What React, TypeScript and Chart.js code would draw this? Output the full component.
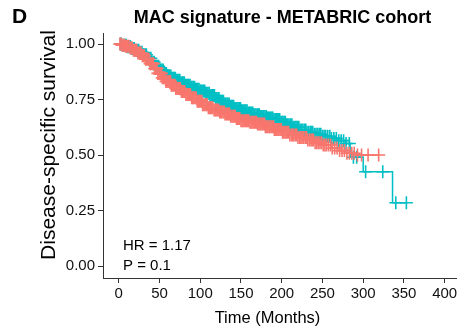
import React, { useEffect, useRef } from "react";
import { Chart, registerables } from "chart.js";

Chart.register(...registerables);

// ---- data ----
const xTicks = [0, 50, 100, 150, 200, 250, 300, 350, 400];
const yTicks = [0, 0.25, 0.5, 0.75, 1];
const yTickLabels = ["0.00", "0.25", "0.50", "0.75", "1.00"];

// High MAC (teal) step curve knots
const tealTimes = [0, 5, 10, 15, 20, 25, 30, 35, 40, 45, 50, 55, 60, 65, 70, 76, 82, 88, 94, 100, 106, 112, 118, 124, 130, 136, 142, 150, 158, 166, 174, 182, 190, 198, 206, 214, 222, 230, 240, 250, 260, 270, 278, 284, 300, 336];
const tealSurv = [1.0, 0.995, 0.988, 0.98, 0.972, 0.963, 0.952, 0.936, 0.918, 0.9, 0.883, 0.868, 0.856, 0.846, 0.837, 0.826, 0.815, 0.805, 0.797, 0.789, 0.779, 0.768, 0.755, 0.742, 0.73, 0.72, 0.71, 0.7, 0.69, 0.682, 0.674, 0.667, 0.66, 0.648, 0.637, 0.625, 0.613, 0.603, 0.594, 0.585, 0.575, 0.565, 0.552, 0.49, 0.425, 0.285];
const tealCensor = [2, 3, 5, 6.5, 8, 9, 10.5, 12, 13.5, 14.5, 16, 17.5, 19, 20, 21.5, 23, 24.5, 25.5, 27, 28.5, 30, 31, 32.5, 34, 35, 36.5, 38, 39.5, 40.5, 42, 43.5, 45, 46, 47.5, 49, 50.5, 51.5, 53, 54.5, 56, 57, 58.5, 60, 61.5, 62.5, 64, 65.5, 67, 68, 69.5, 71, 72.5, 73.5, 75, 76.5, 78, 79, 80.5, 82, 83.5, 84.5, 86, 87.5, 89, 90, 91.5, 93, 94.5, 95.5, 97, 98.5, 100, 101, 102.5, 104, 105.5, 106.5, 108, 109.5, 111, 112, 113.5, 115, 116.5, 117.5, 119, 120.5, 122, 123, 124.5, 126, 127.5, 128.5, 130, 131.5, 133, 134, 135.5, 137, 138.5, 139.5, 141, 142.5, 144, 145, 146.5, 148, 149.5, 150.5, 152, 153.5, 155, 156, 157.5, 159, 160.5, 161.5, 163, 164.5, 166, 167, 168.5, 170, 171.5, 172.5, 174, 175.5, 177, 178, 179.5, 181, 182.5, 183.5, 185, 186.5, 188, 189, 190.5, 192, 193.5, 194.5, 196, 197.5, 199, 200, 201.5, 203, 204.5, 206, 207.5, 209, 211, 212.5, 214, 216, 217.5, 219, 221, 222.5, 224, 226, 228, 229.5, 231, 233, 235, 236.5, 238, 240, 242, 244, 246, 248, 250, 252, 254, 256.5, 259, 261, 264, 267, 270, 273, 276, 279, 283, 288, 292, 303, 324, 340, 353];

// Low MAC (salmon) step curve knots
const salmonTimes = [0, 4, 8, 13, 18, 23, 28, 33, 38, 43, 48, 53, 58, 64, 70, 76, 82, 89, 96, 103, 110, 117, 124, 130, 137, 144, 150, 160, 170, 180, 191, 200, 210, 220, 231, 241, 251, 261, 271, 280, 290];
const salmonSurv = [1.0, 0.995, 0.99, 0.982, 0.972, 0.96, 0.948, 0.932, 0.912, 0.89, 0.868, 0.848, 0.832, 0.815, 0.8, 0.786, 0.773, 0.758, 0.742, 0.727, 0.713, 0.703, 0.694, 0.685, 0.675, 0.665, 0.655, 0.648, 0.64, 0.628, 0.615, 0.603, 0.59, 0.579, 0.568, 0.556, 0.545, 0.532, 0.52, 0.508, 0.5];
const salmonCensor = [1.5, 3, 4, 5.5, 7, 8.5, 9.5, 11, 12.5, 14, 15, 16.5, 18, 19.5, 20.5, 22, 23.5, 25, 26, 27.5, 29, 30.5, 31.5, 33, 34.5, 36, 37, 38.5, 40, 41.5, 42.5, 44, 45.5, 47, 48, 49.5, 51, 52.5, 53.5, 55, 56.5, 58, 59, 60.5, 62, 63.5, 64.5, 66, 67.5, 69, 70, 71.5, 73, 74.5, 75.5, 77, 78.5, 80, 81, 82.5, 84, 85.5, 86.5, 88, 89.5, 91, 92, 93.5, 95, 96.5, 97.5, 99, 100.5, 102, 103, 104.5, 106, 107.5, 108.5, 110, 111.5, 113, 114, 115.5, 117, 118.5, 119.5, 121, 122.5, 124, 125, 126.5, 128, 129.5, 130.5, 132, 133.5, 135, 136, 137.5, 139, 140.5, 141.5, 143, 144.5, 146, 147, 148.5, 150, 151.5, 152.5, 154, 155.5, 157, 158, 159.5, 161, 162.5, 163.5, 165, 166.5, 168, 169, 170.5, 172, 173.5, 174.5, 176, 177.5, 179, 180, 181.5, 183, 184.5, 185.5, 187, 188.5, 190, 191, 192.5, 194, 195.5, 196.5, 198, 199.5, 201, 202.5, 204, 205.5, 207, 208.5, 210, 212, 213.5, 215, 217, 218.5, 220, 222, 223.5, 225, 227, 229, 230.5, 232, 234, 236, 237.5, 239, 241, 243, 245, 247, 249, 251, 253, 255, 257.5, 260, 262, 265, 268, 271, 274, 277, 280, 283, 286, 289, 293, 298, 306, 319];

const TEAL = "#00BFC4";
const SALMON = "#F8766D";
const FONT = "'Liberation Sans', Arial, Helvetica, sans-serif";

function stepAt(times: number[], surv: number[], t: number) {
  let v = surv[0];
  for (let i = 0; i < times.length; i++) {
    if (times[i] <= t) v = surv[i];
  }
  return v;
}

function lineData(times: number[], surv: number[], censor: number[]) {
  const pts = times.map((t, i) => ({ x: t, y: surv[i] }));
  const last = censor[censor.length - 1];
  if (last > times[times.length - 1]) pts.push({ x: last, y: surv[surv.length - 1] });
  return pts;
}

function censorData(times: number[], surv: number[], censor: number[]) {
  return censor.map((t) => ({ x: t, y: stepAt(times, surv, t) }));
}

const textPlugin = {
  id: "texts",
  afterDraw(chart: any) {
    const ctx = chart.ctx;
    ctx.save();
    ctx.fillStyle = "#000";
    ctx.textBaseline = "alphabetic";
    ctx.font = `bold 21px ${FONT}`;
    ctx.textAlign = "left";
    ctx.fillText("D", 12, 23);
    ctx.font = `bold 18px ${FONT}`;
    ctx.textAlign = "center";
    ctx.fillText("MAC signature - METABRIC cohort", 282.5, 23);
    ctx.font = `16.5px ${FONT}`;
    ctx.fillText("Time (Months)", 267.5, 323);
    ctx.save();
    ctx.translate(55, 145);
    ctx.rotate(-Math.PI / 2);
    ctx.font = `21px ${FONT}`;
    ctx.textAlign = "center";
    ctx.fillText("Disease-specific survival", 0, 0);
    ctx.restore();
    ctx.font = `15px ${FONT}`;
    ctx.textAlign = "left";
    ctx.fillText("HR = 1.17", 123, 250);
    ctx.fillText("P = 0.1", 123, 270);
    ctx.restore();
  },
};

export default function App() {
  const ref = useRef<HTMLCanvasElement | null>(null);
  useEffect(() => {
    if (!ref.current) return;
    const chart = new Chart(ref.current, {
      type: "scatter",
      data: {
        datasets: [
          {
            label: "low censor",
            data: censorData(salmonTimes, salmonSurv, salmonCensor),
            showLine: false,
            pointStyle: "cross",
            pointRadius: 6.5,
            borderColor: SALMON,
            backgroundColor: SALMON,
            borderWidth: 1.6,
            order: 0,
          },
          {
            label: "low",
            data: lineData(salmonTimes, salmonSurv, salmonCensor),
            showLine: true,
            stepped: true,
            pointRadius: 0,
            borderColor: SALMON,
            borderWidth: 1.5,
            order: 1,
          },
          {
            label: "high censor",
            data: censorData(tealTimes, tealSurv, tealCensor),
            showLine: false,
            pointStyle: "cross",
            pointRadius: 6.5,
            borderColor: TEAL,
            backgroundColor: TEAL,
            borderWidth: 1.6,
            order: 2,
          },
          {
            label: "high",
            data: lineData(tealTimes, tealSurv, tealCensor),
            showLine: true,
            stepped: true,
            pointRadius: 0,
            borderColor: TEAL,
            borderWidth: 1.5,
            order: 3,
          },
        ],
      },
      options: {
        responsive: false,
        animation: false,
        devicePixelRatio: 1,
        layout: { padding: { top: 33, right: 2, bottom: 0, left: 0 } },
        plugins: { legend: { display: false }, tooltip: { enabled: false }, title: { display: false } },
        scales: {
          x: {
            type: "linear",
            min: -19.3,
            max: 415,
            afterFit: (s: any) => {
              s.height = 56;
            },
            afterBuildTicks: (s: any) => {
              s.ticks = xTicks.map((v) => ({ value: v }));
            },
            grid: { drawOnChartArea: false, drawTicks: true, tickLength: 5, color: "#333", lineWidth: 1 },
            border: { display: true, color: "#333", width: 1 },
            ticks: {
              color: "#111",
              font: { family: FONT, size: 15 },
              padding: 2,
              maxRotation: 0,
              autoSkip: false,
              callback: (v: any) => String(v),
            },
          },
          y: {
            type: "linear",
            min: -0.054,
            max: 1.05,
            afterFit: (s: any) => {
              s.width = 103;
            },
            afterBuildTicks: (s: any) => {
              s.ticks = yTicks.map((v) => ({ value: v }));
            },
            grid: { drawOnChartArea: false, drawTicks: true, tickLength: 5, color: "#333", lineWidth: 1 },
            border: { display: true, color: "#333", width: 1 },
            ticks: {
              color: "#111",
              font: { family: FONT, size: 15 },
              padding: 3,
              autoSkip: false,
              callback: (v: any) => {
                const i = yTicks.indexOf(Number(v));
                return i >= 0 ? yTickLabels[i] : "";
              },
            },
          },
        },
      },
      plugins: [textPlugin],
    });
    return () => chart.destroy();
  }, []);
  return (
    <div style={{ position: "fixed", left: 0, top: 0, width: 465, height: 334, background: "#fff" }}>
      <canvas ref={ref} width={465} height={334} style={{ width: 465, height: 334, display: "block" }} />
    </div>
  );
}
